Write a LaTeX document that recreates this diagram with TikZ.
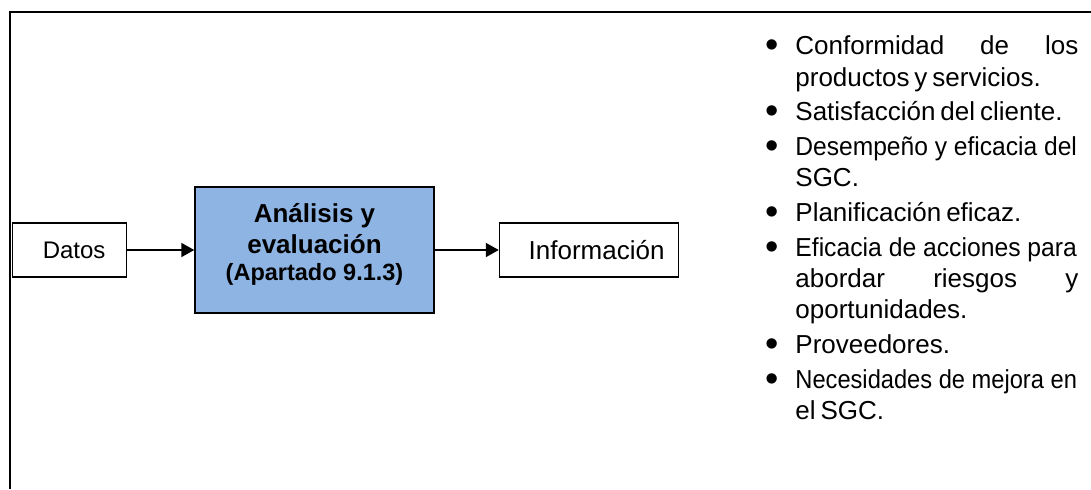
\documentclass[tikz,border=0pt]{standalone}
\usepackage{fontspec}
\usepackage{graphicx}
\setmainfont{Liberation Sans}
\usetikzlibrary{positioning,arrows.meta}
\definecolor{azulcaja}{RGB}{142,180,227}
% renglon justificado: estira los espacios o comprime el renglon
\newcommand{\lineajust}[1]{\leavevmode\setbox0\hbox{\spaceskip=0pt\relax#1}%
  \ifdim\wd0>\linewidth\hbox to\linewidth{\resizebox{0.995\linewidth}{\height}{\spaceskip=0pt\relax#1}\hss}%
  \else\hbox to\linewidth{\spaceskip=0.25em plus 1fil\relax#1}\fi}
\newcommand{\vineta}{\raisebox{-1.5pt}{\fontsize{19}{19}\selectfont\textbullet}}

\begin{document}
\begin{tikzpicture}
[
x=0.5pt, y=-0.5pt,
every node/.style={draw, inner sep=0pt, font=\fontsize{12}{14.4}\selectfont},
caja/.style={minimum height=27pt, line width=0.75pt},
flecha/.style={-{Triangle[length=6.5pt,width=7pt]}, line width=1pt}
]
\useasboundingbox (0,0) rectangle (1091,489);
\draw[line width=1.25pt] (1091,12) -- (10,12) -- (10,489);

\node[caja, fill=azulcaja, minimum width=119.5pt, minimum height=63pt, align=center,
      font=\fontsize{13}{15.5}\selectfont\bfseries] (analisis) at (314.5,250)
  {Análisis y\\ evaluación\\[-2pt] {\fontsize{11.75}{13.5}\selectfont (Apartado 9.1.3)}\rule[-8.5pt]{0pt}{1pt}};
\node[caja, left=33.5pt of analisis, text width=36pt, inner xsep=10.5pt, align=right] (datos) {Datos};
\node[caja, right=32pt of analisis, text width=75.5pt, inner xsep=7pt, align=right,
      font=\fontsize{13}{15}\selectfont] (info) {Información};

\draw[flecha] (datos) -- (analisis);
\draw[flecha] (analisis) -- (info);

\node[draw=none, anchor=north west, text width=159pt, font=\fontsize{13}{15.7}\selectfont] (lista) at (760,23) {%
\spaceskip=0.19em plus 0.1em\relax
\begin{list}{\vineta}{\setlength{\leftmargin}{17.5pt}\setlength{\labelsep}{8.2pt}%
  \setlength{\labelwidth}{9.3pt}\setlength{\itemsep}{1.6pt}\setlength{\parsep}{0pt}%
  \setlength{\topsep}{0pt}\setlength{\partopsep}{0pt}}
\item \lineajust{Conformidad de los}\\ productos y servicios.
\item Satisfacción del cliente.
\item \lineajust{Desempeño y eficacia del}\\ SGC.
\item Planificación eficaz.
\item \lineajust{Eficacia de acciones para}\\ \lineajust{abordar riesgos y}\\ oportunidades.
\item Proveedores.
\item \lineajust{Necesidades de mejora en}\\ el SGC.
\end{list}};
\end{tikzpicture}
\end{document}
